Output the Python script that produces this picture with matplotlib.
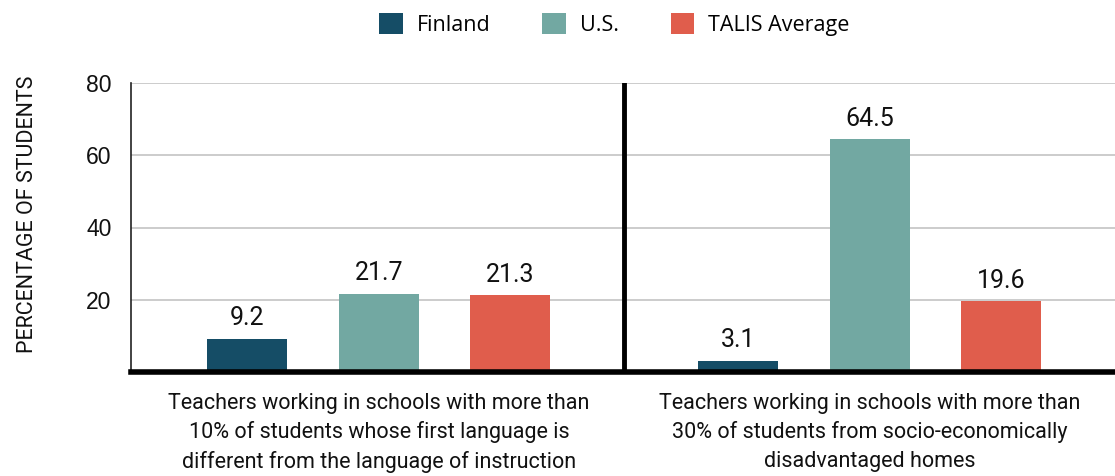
import matplotlib
matplotlib.use("Agg")
import matplotlib.pyplot as plt
from matplotlib.patches import Patch

cond = "Roboto"

categories = ["Teachers working in schools with more than\n10% of students whose first language is\ndifferent from the language of instruction",
              "Teachers working in schools with more than\n30% of students from socio-economically\ndisadvantaged homes"]
series = ["Finland", "U.S.", "TALIS Average"]
finland = [9.2, 3.1]
us = [21.7, 64.5]
talis = [21.3, 19.6]
colors = ["#154d66", "#72a8a2", "#e05d4c"]
yticks = [20, 40, 60, 80]

fig = plt.figure(figsize=(11.15, 4.76), dpi=100)
ax = fig.add_axes([131/1115, 104/476, 1 - 131/1115, (372-83)/476])

spacing = 0.268
width = 0.163
for i, (vals, col) in enumerate(zip([finland, us, talis], colors)):
    xs = [g + (i - 1) * spacing for g in range(len(categories))]
    ax.bar(xs, vals, width=width, color=col, zorder=3)
    for x, v in zip(xs, vals):
        ax.text(x, v + 2.3, f"{v}", ha="center", va="bottom", fontsize=18, family=cond, color="#111111")

ax.set_xlim(-0.505, 1.5)
ax.set_ylim(0, 80)
ax.set_yticks(yticks)
ax.set_yticklabels([str(t) for t in yticks], fontsize=16.5, family="Liberation Sans", color="#111111")
ax.tick_params(axis="y", length=0, pad=14)
ax.set_xticks(range(len(categories)))
ax.set_xticklabels(categories, fontsize=15.5, family=cond, color="#111111", linespacing=1.45)
ax.tick_params(axis="x", length=0, pad=15)
ax.grid(axis="y", color="#c8c8c8", linewidth=1.3, zorder=0)
for s in ["top", "right"]:
    ax.spines[s].set_visible(False)
ax.spines["left"].set_color("#222222")
ax.spines["left"].set_linewidth(1.2)
ax.spines["bottom"].set_color("black")
ax.spines["bottom"].set_linewidth(4)
ax.spines["bottom"].set_zorder(5)
ax.axvline(0.5, color="black", linewidth=3.5, zorder=5)

ax.set_ylabel("PERCENTAGE OF STUDENTS", fontsize=15.5, family=cond, color="#111111")
ax.yaxis.set_label_coords(-0.095, 0.545)

handles = [Patch(facecolor=c, edgecolor="none") for c in colors]
fig.legend(handles, series, loc="center", bbox_to_anchor=(0.551, 0.948), ncol=3, frameon=False,
           prop={"family": "Open Sans", "size": 15.5}, handlelength=1.1, handleheight=1.1,
           columnspacing=2.4, handletextpad=0.65)

fig.savefig("out.png", dpi=100)
